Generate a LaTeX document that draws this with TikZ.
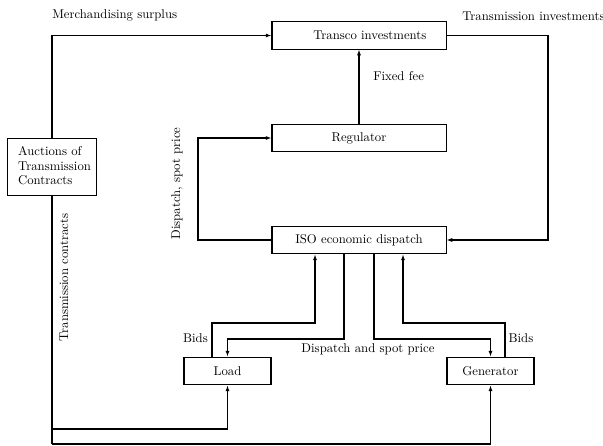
\documentclass[tikz,border=0pt]{standalone}
\usetikzlibrary{arrows.meta}
\begin{document}
\begin{tikzpicture}[x=0.785pt,y=-0.785pt,
  box/.style={draw,line width=0.8pt,inner sep=0pt,minimum height=21.8pt},
  flow/.style={line width=0.8pt,-{Latex[length=4.5pt,width=3.2pt]}},
  plain/.style={line width=0.8pt},
  lbl/.style={inner sep=0pt}]
\useasboundingbox (0,0) rectangle (603,446);

% blocks
\node[box,minimum width=136.6pt,minimum height=21.4pt] (transco) at (359,35.5) {\hspace*{17pt}Transco investments};
\node[box,minimum width=136.6pt] (reg) at (359,138) {Regulator};
\node[box,minimum width=136.6pt] (iso) at (359,240) {ISO economic dispatch};
\node[box,minimum width=68.3pt] (load) at (227.5,371) {Load};
\node[box,minimum width=68.3pt] (gen) at (490.5,371) {Generator};
\node[box,minimum width=69.1pt,minimum height=45.5pt] (auc) at (52,167)
  {\begin{tabular}{@{\hspace{4pt}}l@{}}Auctions of\\[-0.8pt]Transmission\\[-0.8pt]Contracts\end{tabular}};

% money and investment loops
\draw[flow] (auc.north) |- (transco.west);
\draw[flow] (transco.east) -- (548,35.5) |- (iso.east);
\draw[flow] (reg.north) -- (transco.south);
\draw[flow] (iso.west) -- (198,240) |- (reg.west);

% bids and dispatch
\draw[flow] (load.north -| 212,0) |- (315,323) -- (iso.south -| 315,0);
\draw[flow] (iso.south -| 344,0) |- (227.5,339) -- (load.north);
\draw[flow] (iso.south -| 374,0) |- (490.5,339) -- (gen.north);
\draw[flow] (gen.north -| 505,0) |- (403,323) -- (iso.south -| 403,0);

% transmission contracts
\draw[plain] (auc.south) -- (52,444);
\draw[flow] (52,429) -| (load.south);
\draw[flow] (52,444) -| (gen.south);

% labels
\node[lbl,anchor=west] (lmerch) at (52,15) {Merchandising surplus};
\node[lbl,anchor=west] (ltrans) at (462,16) {Transmission investments};
\node[lbl,anchor=west] (lfee) at (373,76) {Fixed fee};
\node[lbl,rotate=90] (ldisp) at (177,183.5) {Dispatch, spot price};
\node[lbl,rotate=90] (lcont) at (64,277.5) {Transmission contracts};
\node[lbl] (lbidl) at (195.5,338) {Bids};
\node[lbl] (lbidg) at (521,338) {Bids};
\node[lbl] (ldsp) at (368,349) {Dispatch and spot price};
\end{tikzpicture}
\end{document}
